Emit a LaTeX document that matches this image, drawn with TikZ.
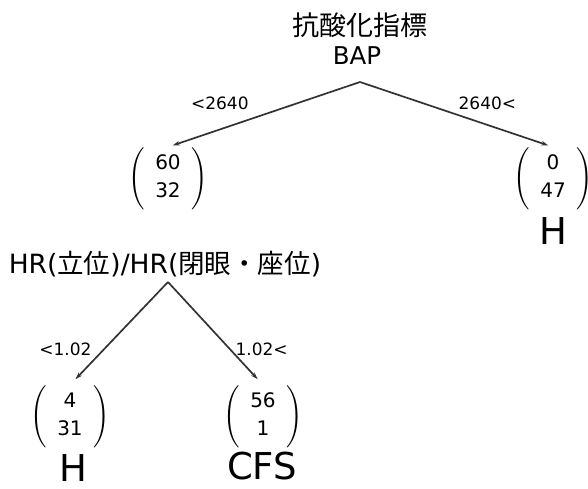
\documentclass[tikz,border=0pt]{standalone}
\usepackage{amsmath}
\usepackage{fontspec}
\setmainfont{DejaVu Sans}
\newfontfamily\cjk{Noto Sans CJK JP}
\usetikzlibrary{arrows.meta}

\begin{document}
\begin{tikzpicture}[x=1pt, y=-1pt,
    num/.style={anchor=north, inner sep=0, font=\fontsize{20}{28}\selectfont},
    lab/.style={inner sep=1pt, font=\fontsize{17}{20}\selectfont},
    cls/.style={inner sep=0, font=\fontsize{37}{40}\selectfont},
    arr/.style={-{Stealth[length=7pt,width=4.5pt]}, line width=1.7pt, draw=black!80}]
\useasboundingbox (0,0) rectangle (588,488);

\node at (360,25) (t){\fontsize{27}{30}\selectfont\cjk 抗酸化指標};
\node at (357,56) (u){\fontsize{24.5}{28}\selectfont BAP};
\coordinate (a) at (360,82);
\node[num] at (168,147) (b){$\left(\begin{array}{c}\makebox[36pt]{60}\\\makebox[36pt]{32}\end{array}\right)$};
\node[num] at (553,147) (c){$\left(\begin{array}{c}\makebox[36pt]{0}\\\makebox[36pt]{47}\end{array}\right)$};
\path
    (a) edge[arr, shorten >=5pt] node [lab, pos=0.73, above=17.5pt] {<2640} (b.north)
    (a) edge[arr, shorten >=5pt] node [lab, pos=0.66, above=13.5pt] {2640<} (c.north);
\node[cls] at (553,231) (h){H};

\node at (165,264) (d){\fontsize{26.5}{28}\selectfont HR({\cjk 立位})/HR({\cjk 閉眼・座位})};
\coordinate (e) at (168,282);
\node[num] at (70,385) (f){$\left(\begin{array}{c}\makebox[36pt]{4}\\\makebox[36pt]{31}\end{array}\right)$};
\node[num] at (263,385) (g){$\left(\begin{array}{c}\makebox[36pt]{56}\\\makebox[36pt]{1}\end{array}\right)$};
\path
    (e) edge[arr, shorten >=8pt] node [lab, pos=0.65, left=11pt] {<1.02} (f.north)
    (e) edge[arr, shorten >=8pt] node [lab, pos=0.65, right=4pt] {1.02<} (g.north);
\node[cls] at (73,468) (i){H};
\node[cls] at (262,466) (j){CFS};

\end{tikzpicture}
\end{document}
